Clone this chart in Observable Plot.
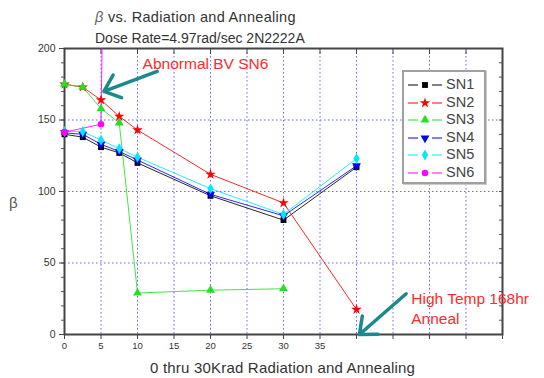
<!DOCTYPE html>
<html>
<head>
<meta charset="utf-8">
<script src="https://cdn.jsdelivr.net/npm/d3@7"></script>
<script src="https://cdn.jsdelivr.net/npm/@observablehq/plot@0.6"></script>
<style>
  html, body { margin: 0; padding: 0; background: #fff; }
  #wrap { position: relative; width: 544px; height: 378px; font-family: "Liberation Sans", Arial, sans-serif; color: #333; overflow: hidden; }
  .abs { position: absolute; white-space: nowrap; }
  #legend { position: absolute; background: #fff; border: 2px solid #a0a0a0; box-sizing: border-box; box-shadow: 1px 1px 0 #ccc; }
</style>
</head>
<body>
<div id="wrap"></div>
<script>
// ---- data ----
const dose = [0, 2.5, 5, 7.5, 10, 20, 30, 40];
const SN1 = [140, 138, 131, 127, 120, 97, 80, 117];
const SN2 = [175, 173, 164, 152.5, 143, 112, 92, 17.5];
const SN3 = [175, 173, 158, 148, 29, 31, 32, null];
const SN4 = [141, 140, 133, 128, 122, 98, 83, 118];
const SN5 = [142, 142, 136, 130, 124, 102, 84, 123];
const doseSN6 = [0, 5, 5.3];
const SN6 = [141.5, 147, 260];

const seriesNames = ["SN1", "SN2", "SN3", "SN4", "SN5", "SN6"];
const seriesColors = ["#000000", "#ff0000", "#22e022", "#0000ff", "#00e8ff", "#ff00ff"];
const seriesSymbols = ["square", "star", "triangle", "triangle", "diamond", "circle"];
const seriesRotate = [0, 0, 0, 180, 0, 0];

const yTicks = [0, 50, 100, 150, 200];
const yMinor = d3.range(0, 201, 10);
const xTicks = d3.range(0, 61, 5);
const xLabelMax = 35;

const titleLine1 = "vs. Radiation and Annealing";
const titleLine2 = "Dose Rate=4.97rad/sec 2N2222A";
const xLabel = "0 thru 30Krad Radiation and Annealing";
const yLabel = "β";

const notes = [
  {x: 10.7, y: 189, text: "Abnormal BV SN6"},
  {x: 47.5, y: 25, text: "High Temp 168hr"},
  {x: 47.5, y: 10.5, text: "Anneal"}
];
const arrows = [
  {x1: 12.7, y1: 184, x2: 5.4, y2: 170},
  {x1: 46.8, y1: 28.5, x2: 40.4, y2: 0}
];

// ---- build rows ----
const allY = [SN1, SN2, SN3, SN4, SN5];
const rows = [];
allY.forEach((arr, i) => arr.forEach((v, j) => { if (v != null) rows.push({s: seriesNames[i], i, x: dose[j], y: v}); }));
SN6.forEach((v, j) => rows.push({s: "SN6", i: 5, x: doseSN6[j], y: v}));

const lineMarks = [];
const dotMarks = [];
seriesNames.forEach((name, i) => {
  const d = rows.filter(r => r.s === name);
  lineMarks.push(Plot.line(d, {x: "x", y: "y", stroke: seriesColors[i], strokeWidth: 1, strokeOpacity: 0.85, clip: true}));
  dotMarks.push(Plot.dot(d.filter(r => r.y <= 200), {x: "x", y: "y", fill: seriesColors[i], symbol: () => seriesSymbols[i], rotate: seriesRotate[i], r: 3.3, stroke: "none"}));
});

const gridStyle = {stroke: "#5555ff", strokeOpacity: 0.9, strokeWidth: 1, strokeDasharray: "1.5,2.5"};

const chart = Plot.plot({
  width: 544,
  height: 378,
  marginLeft: 64,
  marginRight: 42,
  marginTop: 48,
  marginBottom: 44,
  style: {fontFamily: "'Liberation Sans', Arial, sans-serif", color: "#333", background: "transparent"},
  x: {domain: [0, 60], axis: null},
  y: {domain: [0, 200], axis: null},
  symbol: {type: "identity"},
  marks: [
    Plot.gridX(d3.range(5, 60, 5), gridStyle),
    Plot.gridY([50, 100, 150], gridStyle),
    Plot.axisY({ticks: yMinor, tickSize: 3, text: null, stroke: "#555"}),
    Plot.axisY({ticks: yTicks, tickSize: 5, tickPadding: 4, fontSize: 10.5, stroke: "#444", fill: "#333", label: null}),
    Plot.axisY({anchor: "right", ticks: yMinor, tickSize: -4, text: null, stroke: "#555"}),
    Plot.axisX({ticks: xTicks, tickSize: 5, tickPadding: 3, fontSize: 9.5, stroke: "#444", fill: "#333", label: null,
      tickFormat: d => d <= xLabelMax ? String(d) : ""}),
    Plot.axisX({anchor: "top", ticks: xTicks, tickSize: -5, text: null, stroke: "#444"}),
    Plot.frame({stroke: "#444", strokeWidth: 2}),
    ...lineMarks,
    ...dotMarks,
    Plot.arrow(arrows, {x1: "x1", y1: "y1", x2: "x2", y2: "y2", stroke: "#1a8a8a", strokeWidth: 3.5, headLength: 8, headAngle: 80}),
    Plot.text(notes, {x: "x", y: "y", text: "text", fill: "#ff2a2a", fontSize: 15.5, textAnchor: "start"})
  ]
});
chart.style.position = "absolute";
chart.style.left = "0px";
chart.style.top = "0px";

const wrap = document.getElementById("wrap");
wrap.appendChild(chart);

// titles
function addText(html, left, top, size, extra) {
  const d = document.createElement("div");
  d.className = "abs";
  d.style.left = left + "px";
  d.style.top = top + "px";
  d.style.fontSize = size + "px";
  if (extra) Object.assign(d.style, extra);
  d.innerHTML = html;
  wrap.appendChild(d);
  return d;
}
addText('<i style="color:#666">β</i> ' + titleLine1, 95, 9, 14.5, {color: "#333", letterSpacing: "0.3px"});
addText(titleLine2, 95, 30, 14, {color: "#333"});
addText(xLabel, 150, 359, 15, {color: "#333", letterSpacing: "0.2px"});
addText(yLabel, 9, 194, 15, {color: "#555"});

// legend
const leg = document.createElement("div");
leg.id = "legend";
leg.style.left = "402px";
leg.style.top = "70px";
leg.style.width = "84px";
leg.style.height = "114px";
wrap.appendChild(leg);
const symMap = {square: d3.symbolSquare, star: d3.symbolStar, triangle: d3.symbolTriangle, diamond: d3.symbolDiamond, circle: d3.symbolCircle};
seriesNames.forEach((name, i) => {
  const cy = 13 + i * 17.6;
  const svg = d3.create("svg").attr("width", 36).attr("height", 12)
    .style("position", "absolute").style("left", "4px").style("top", (cy - 6) + "px");
  svg.append("line").attr("x1", 0).attr("x2", 10).attr("y1", 6).attr("y2", 6).attr("stroke", seriesColors[i]).attr("stroke-width", 1);
  svg.append("line").attr("x1", 24).attr("x2", 34).attr("y1", 6).attr("y2", 6).attr("stroke", seriesColors[i]).attr("stroke-width", 1);
  svg.append("path").attr("d", d3.symbol(symMap[seriesSymbols[i]], Math.PI * 3.3 * 3.3)())
    .attr("transform", `translate(17,6) rotate(${seriesRotate[i]})`).attr("fill", seriesColors[i]);
  leg.appendChild(svg.node());
  const t = document.createElement("div");
  t.className = "abs";
  t.style.left = "42px";
  t.style.top = (cy - 9) + "px";
  t.style.fontSize = "14.5px";
  t.style.color = "#444";
  t.textContent = name;
  leg.appendChild(t);
});
</script>
</body>
</html>
